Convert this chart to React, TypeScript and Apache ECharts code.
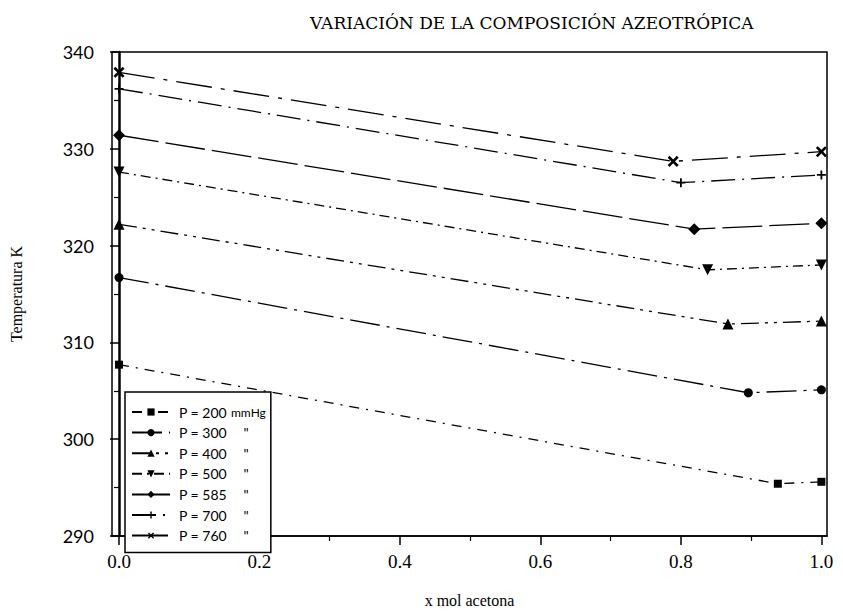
import React, { useEffect, useRef } from "react";
import * as echarts from "echarts";

// ---- data ----
const seriesNames = ["200", "300", "400", "500", "585", "700", "760"];
const p200X = [0, 0.938, 1];
const p200T = [307.7, 295.4, 295.6];
const p300X = [0, 0.896, 1];
const p300T = [316.7, 304.8, 305.1];
const p400X = [0, 0.867, 1];
const p400T = [322.2, 311.9, 312.2];
const p500X = [0, 0.838, 1];
const p500T = [327.6, 317.5, 318.0];
const p585X = [0, 0.819, 1];
const p585T = [331.4, 321.7, 322.3];
const p700X = [0, 0.8, 1];
const p700T = [336.2, 326.5, 327.3];
const p760X = [0, 0.789, 1];
const p760T = [337.9, 328.7, 329.7];
const xTickLabels = [0, 0.2, 0.4, 0.6, 0.8, 1.0];
const xMinorTicks = [0.1, 0.3, 0.5, 0.7, 0.9];

const PLUS = "path://M4,0h2v4h4v2h-4v4h-2v-4h-4v-2h4z";

const styles: any[] = [
  { symbol: "rect", size: 8, rotate: 0, dash: [10, 7, 2, 7] },
  { symbol: "circle", size: 9, rotate: 0, dash: [30, 7, 3, 7] },
  { symbol: "triangle", size: 11, rotate: 0, dash: [18, 6, 3, 6, 3, 6] },
  { symbol: "triangle", size: 11, rotate: 180, dash: [10, 5, 2, 5] },
  { symbol: "diamond", size: 12, rotate: 0, dash: [40, 7] },
  { symbol: PLUS, size: 9, rotate: 0, dash: [24, 7, 2, 7] },
  { symbol: PLUS, size: 13, rotate: 45, dash: [36, 9, 4, 9] },
];

function pairs(xs: number[], ts: number[]) {
  return xs.map((x, i) => [x, ts[i]]);
}

export default function App() {
  const ref = useRef<HTMLDivElement>(null);
  useEffect(() => {
    document.body.style.margin = "0";
    const chart = echarts.init(ref.current!, null, { renderer: "svg" });
    const data = [
      pairs(p200X, p200T),
      pairs(p300X, p300T),
      pairs(p400X, p400T),
      pairs(p500X, p500T),
      pairs(p585X, p585T),
      pairs(p700X, p700T),
      pairs(p760X, p760T),
    ];
    const series = seriesNames.map((name, i) => ({
      name,
      type: "line",
      data: data[i],
      symbol: styles[i].symbol,
      symbolSize: styles[i].size,
      symbolRotate: styles[i].rotate,
      showAllSymbol: true,
      itemStyle: { color: "#000" },
      lineStyle: { color: "#000", width: 1.3, type: styles[i].dash },
      xAxisIndex: 0,
    }));
    const serif = "Liberation Serif";
    chart.setOption({
      animation: false,
      backgroundColor: "#fff",
      title: {
        text: "VARIACIÓN DE LA COMPOSICIÓN AZEOTRÓPICA",
        left: 305,
        top: 9,
        textStyle: { fontFamily: "DejaVu Serif", fontSize: 17, fontWeight: "normal", color: "#000" },
      },
      grid: {
        left: 112,
        right: 16,
        top: 52,
        bottom: 75,
        show: true,
        borderColor: "#000",
        borderWidth: 1.5,
        backgroundColor: "transparent",
      },
      legend: {
        orient: "vertical",
        left: 125,
        top: 392,
        data: seriesNames,
        backgroundColor: "#fff",
        borderColor: "#000",
        borderWidth: 1.5,
        padding: [13, 5, 10, 6],
        itemWidth: 38,
        itemHeight: 9,
        itemGap: 6.6,
        textStyle: {
          fontFamily: "Lato",
          fontSize: 14,
          color: "#000",
          padding: [0, 0, 0, 4],
          rich: {
            a: { fontFamily: "Lato", fontSize: 14, width: 52, color: "#000" },
            u: { fontFamily: "Lato", fontSize: 12, color: "#000" },
            d: { fontFamily: "Lato", fontSize: 14, width: 30, align: "center", color: "#000" },
          },
        },
        formatter: (name: string) =>
          name === "200" ? `{a|P = 200}{u|mmHg}` : `{a|P = ${name}}{d|"}`,
      },
      xAxis: [
        {
          type: "value",
          min: -0.01,
          max: 1.008,
          position: "bottom",
          name: "x mol acetona",
          nameLocation: "middle",
          nameGap: 56,
          nameTextStyle: { fontFamily: serif, fontSize: 16, color: "#000" },
          axisLine: { show: true, lineStyle: { color: "#000", width: 1.5 } },
          axisTick: { show: true, inside: false, length: 9, customValues: xTickLabels, lineStyle: { color: "#000", width: 1.5 } },
          axisLabel: {
            customValues: xTickLabels,
            formatter: (v: number) => v.toFixed(1),
            fontFamily: serif,
            fontSize: 19,
            color: "#000",
            margin: 16,
          },
          splitLine: { show: false },
        },
        {
          type: "value",
          min: -0.01,
          max: 1.008,
          position: "bottom",
          axisLine: { show: false },
          axisTick: { show: true, length: 5, customValues: xMinorTicks, lineStyle: { color: "#000", width: 1.2 } },
          axisLabel: { show: false },
          splitLine: { show: false },
        },
      ],
      yAxis: {
        type: "value",
        min: 290,
        max: 340,
        interval: 10,
        name: "Temperatura K",
        nameLocation: "middle",
        nameGap: 88,
        nameTextStyle: { fontFamily: serif, fontSize: 16, color: "#000" },
        axisLine: { show: true, lineStyle: { color: "#000", width: 2.5 } },
        axisTick: { show: true, length: 9, lineStyle: { color: "#000", width: 1.5 } },
        minorTick: { show: true, splitNumber: 2, length: 5, lineStyle: { color: "#000", width: 1.2 } },
        axisLabel: { fontFamily: "Lato", fontSize: 18, color: "#000", margin: 18 },
        splitLine: { show: false },
      },
      series,
    } as any);
    return () => chart.dispose();
  }, []);
  return <div ref={ref} style={{ width: 843, height: 613 }} />;
}
